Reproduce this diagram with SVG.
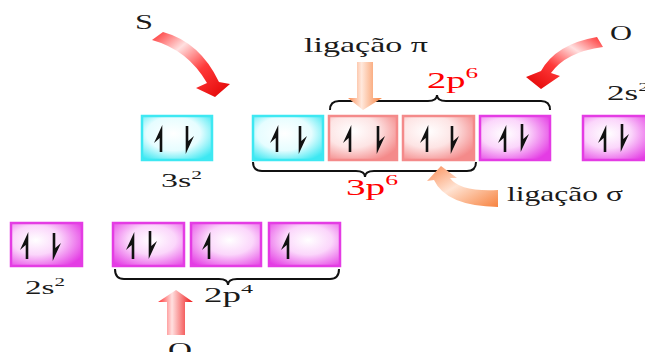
<svg xmlns="http://www.w3.org/2000/svg" width="645" height="352" viewBox="0 0 645 352">
<style>
.t{font-family:"Liberation Serif","Times New Roman",serif;fill:#1a1a1a}
.r{fill:#ff0000}
.br{fill:none;stroke:#111;stroke-width:2}
.cy{fill:url(#gCy);stroke:#3ee8f2;stroke-width:2.5}
.pk{fill:url(#gPk);stroke:#f48a8a;stroke-width:2.5}
.mg{fill:url(#gMg);stroke:#e43ce4;stroke-width:2.5}
.mg2{fill:url(#gMg2);stroke:#e43ce4;stroke-width:2.5}
.e{fill:#111}
</style>
<defs>
<radialGradient id="gCy" cx="0.45" cy="0.4" r="0.7">
<stop offset="0" stop-color="#ffffff"/><stop offset="0.55" stop-color="#e6fdff"/><stop offset="1" stop-color="#3ee8f2"/>
</radialGradient>
<radialGradient id="gPk" cx="0.35" cy="0.35" r="0.75">
<stop offset="0" stop-color="#ffffff"/><stop offset="0.5" stop-color="#fde4e4"/><stop offset="1" stop-color="#f48a8a"/>
</radialGradient>
<radialGradient id="gMg" cx="0.35" cy="0.4" r="0.75">
<stop offset="0" stop-color="#ffffff"/><stop offset="0.45" stop-color="#fbd6fb"/><stop offset="1" stop-color="#e43ce4"/>
</radialGradient>
<radialGradient id="gMg2" cx="0.55" cy="0.4" r="0.75">
<stop offset="0" stop-color="#ffffff"/><stop offset="0.45" stop-color="#fbd6fb"/><stop offset="1" stop-color="#e43ce4"/>
</radialGradient>
<linearGradient id="gRed" x1="0" y1="0" x2="1" y2="1">
<stop offset="0" stop-color="#ff2a2a"/><stop offset="0.3" stop-color="#ffe0e0"/><stop offset="0.6" stop-color="#ff3a3a"/><stop offset="1" stop-color="#e00000"/>
</linearGradient>
<linearGradient id="gRed2" x1="1" y1="0" x2="0" y2="1">
<stop offset="0" stop-color="#ff2a2a"/><stop offset="0.3" stop-color="#ffe0e0"/><stop offset="0.6" stop-color="#ff3a3a"/><stop offset="1" stop-color="#e00000"/>
</linearGradient>
<linearGradient id="gRedV" x1="0" y1="0" x2="1" y2="0">
<stop offset="0" stop-color="#ff3030"/><stop offset="0.4" stop-color="#ffe0e0"/><stop offset="1" stop-color="#ee1010"/>
</linearGradient>
<linearGradient id="gOr" x1="0" y1="0" x2="1" y2="0">
<stop offset="0" stop-color="#fa8c55"/><stop offset="0.4" stop-color="#ffe8dc"/><stop offset="1" stop-color="#f7823f"/>
</linearGradient>
<linearGradient id="gOr2" x1="0" y1="0" x2="1" y2="1">
<stop offset="0" stop-color="#fa8c55"/><stop offset="0.45" stop-color="#ffe3d3"/><stop offset="1" stop-color="#f7823f"/>
</linearGradient>
<path id="up" d="M1.3,0 L-7,18 L-1.3,13 L-1.3,27 L1.3,27 Z"/>
<path id="dn" d="M-1.3,0 L7,-18 L1.3,-13 L1.3,-28 L-1.3,-28 Z"/>
</defs>

<g id="node-3s2-S">
<rect class="cy" x="142" y="116" width="70" height="44"/>
<use href="#up" class="e" x="161" y="125"/><use href="#dn" class="e" x="187" y="154"/>
<text class="t" x="161" y="187" font-size="19" textLength="41" lengthAdjust="spacingAndGlyphs">3s<tspan font-size="12" dy="-8">2</tspan></text>
</g>
<g id="node-3p-a">
<rect class="cy" x="253" y="116" width="70" height="44"/>
<use href="#up" class="e" x="277" y="125"/><use href="#dn" class="e" x="300" y="154"/>
</g>
<g id="node-3p-b">
<rect class="pk" x="329" y="116" width="68" height="44"/>
<use href="#up" class="e" x="350" y="125"/><use href="#dn" class="e" x="378" y="154"/>
</g>
<g id="node-3p-c">
<rect class="pk" x="403" y="116" width="71" height="44"/>
<use href="#up" class="e" x="427" y="125"/><use href="#dn" class="e" x="452" y="154"/>
</g>
<g id="node-2p-O-c">
<rect class="mg" x="480" y="116" width="70" height="44"/>
<use href="#up" class="e" x="505" y="125"/><use href="#dn" class="e" x="522" y="152"/>
</g>
<g id="node-2s2-O-right">
<rect class="mg" x="583" y="116" width="70" height="44"/>
<use href="#up" class="e" x="605" y="125"/><use href="#dn" class="e" x="622" y="152"/>
<text class="t" x="607" y="100" font-size="21" textLength="42" lengthAdjust="spacingAndGlyphs">2s<tspan font-size="13" dy="-9">2</tspan></text>
</g>

<g id="node-2s2-O">
<rect class="mg" x="11" y="223" width="71" height="43"/>
<use href="#up" class="e" x="27" y="232"/><use href="#dn" class="e" x="54" y="261"/>
<text class="t" x="25" y="294" font-size="19" textLength="40" lengthAdjust="spacingAndGlyphs">2s<tspan font-size="12" dy="-8">2</tspan></text>
</g>
<g id="node-2p-1">
<rect class="mg2" x="113" y="223" width="71" height="43"/>
<use href="#up" class="e" x="133" y="232"/><use href="#dn" class="e" x="150" y="259"/>
</g>
<g id="node-2p-2">
<rect class="mg2" x="191" y="223" width="70" height="43"/>
<use href="#up" class="e" x="209" y="232"/>
</g>
<g id="node-2p-3">
<rect class="mg2" x="269" y="223" width="71" height="43"/>
<use href="#up" class="e" x="288" y="232"/>
</g>

<g id="labels">
<text class="t" x="135" y="29" font-size="20" textLength="18" lengthAdjust="spacingAndGlyphs">S</text>
<text class="t" x="610" y="40" font-size="21" textLength="22" lengthAdjust="spacingAndGlyphs">O</text>
<text class="t" x="168" y="357" font-size="21" textLength="24" lengthAdjust="spacingAndGlyphs">O</text>
<text class="t" x="304" y="52" font-size="21" textLength="124" lengthAdjust="spacingAndGlyphs">ligação π</text>
<text class="t" x="507" y="201" font-size="21" textLength="116" lengthAdjust="spacingAndGlyphs">ligação σ</text>
<text class="t r" x="427" y="88" font-size="23" textLength="51" lengthAdjust="spacingAndGlyphs">2p<tspan font-size="15" dy="-10">6</tspan></text>
<text class="t r" x="346" y="195" font-size="23" textLength="52" lengthAdjust="spacingAndGlyphs">3p<tspan font-size="15" dy="-10">6</tspan></text>
<text class="t" x="204" y="302" font-size="20" textLength="49" lengthAdjust="spacingAndGlyphs">2p<tspan font-size="13" dy="-9">4</tspan></text>
</g>

<g id="connectors">
<path class="br" d="M330,110 Q330,101 339,101 L428,101 Q437,101 437,95 Q437,101 446,101 L541,101 Q550,101 550,110"/>
<path class="br" d="M253,162 Q253,171 262,171 L356,171 Q365,171 365,177 Q365,171 374,171 L467,171 Q476,171 476,162"/>
<path class="br" d="M115,269 Q115,279 124,279 L219,279 Q228,279 228,285 Q228,279 237,279 L330,279 Q339,279 339,269"/>
<path fill="url(#gRed)" d="M152,40 Q188,50 207,83 L196,88 L215,97 L230,84 L219,82 Q200,42 163,32 Z"/>
<path fill="url(#gRed2)" d="M597,37 Q556,44 541,71 L526,77 L541,89 L560,76 L551,73 Q566,52 603,47 Z"/>
<path fill="url(#gOr)" d="M357,62 L373,62 L373,98 L382,98 L363,110 L348,98 L357,98 Z"/>
<path fill="url(#gOr2)" d="M441,166 L427,181 L434,180 Q446,206 498,207 L498,190 Q460,192 450,178 L457,178 Z"/>
<path fill="url(#gRedV)" d="M167,335 L167,302 L158,302 L176,290 L193,302 L185,302 L185,335 Z"/>
</g>
</svg>
